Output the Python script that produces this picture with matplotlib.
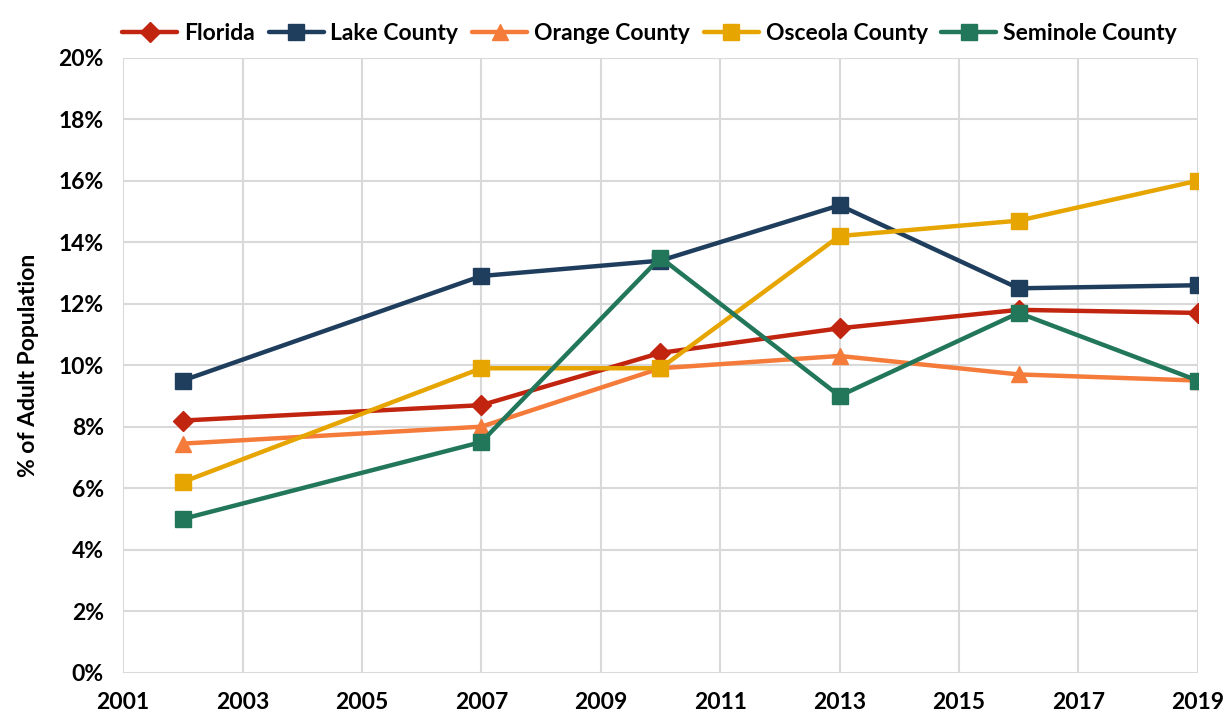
import matplotlib
matplotlib.use('Agg')
import matplotlib.pyplot as plt
from matplotlib.ticker import FuncFormatter, MultipleLocator

plt.rcParams['font.family'] = ['Lato', 'DejaVu Sans']
plt.rcParams['font.weight'] = 'bold'

# survey years and % of adult population per area
years = [2002, 2007, 2010, 2013, 2016, 2019]
florida = [8.2, 8.7, 10.4, 11.2, 11.8, 11.7]
lake = [9.5, 12.9, 13.4, 15.2, 12.5, 12.6]
orange = [7.45, 8.0, 9.9, 10.3, 9.7, 9.5]
osceola = [6.2, 9.9, 9.9, 14.2, 14.7, 16.0]
seminole = [5.0, 7.5, 13.5, 9.0, 11.7, 9.5]
xticks = list(range(2001, 2020, 2))

series = [
    ('Florida', florida, '#C1240F', 'D', 10),
    ('Lake County', lake, '#1F3E5E', 's', 11),
    ('Orange County', orange, '#F47B3A', '^', 11),
    ('Osceola County', osceola, '#E6A500', 's', 11),
    ('Seminole County', seminole, '#22775A', 's', 11),
]

fig = plt.figure(figsize=(12.31, 7.21), dpi=100)
ax = fig.add_axes([0.1, 0.067, 0.873, 0.853])

for name, vals, color, marker, ms in series:
    ax.plot(years, vals, color=color, lw=3.2, marker=marker, markersize=ms,
            label=name, solid_capstyle='round')

ax.set_xlim(2001, 2019)
ax.set_ylim(0, 20)
ax.set_xticks(xticks)
ax.yaxis.set_major_locator(MultipleLocator(2))
ax.yaxis.set_major_formatter(FuncFormatter(lambda v, p: f'{v:.0f}%'))
ax.grid(True, color='#D9D9D9', lw=1.5)
ax.set_axisbelow(True)
for s in ax.spines.values():
    s.set_visible(False)
ax.tick_params(length=0, labelsize=16.5, pad=14)
for lbl in ax.get_xticklabels() + ax.get_yticklabels():
    lbl.set_fontweight('bold')
ax.set_ylabel('% of Adult Population', fontsize=16.5, fontweight='bold', labelpad=14)

ax.legend(loc='lower center', bbox_to_anchor=(0.49, 1.0), ncol=5, frameon=False,
          fontsize=16.5, handlelength=2.4, columnspacing=0.6, handletextpad=0.3,
          borderaxespad=0.2)

fig.savefig('out.png', dpi=100)
